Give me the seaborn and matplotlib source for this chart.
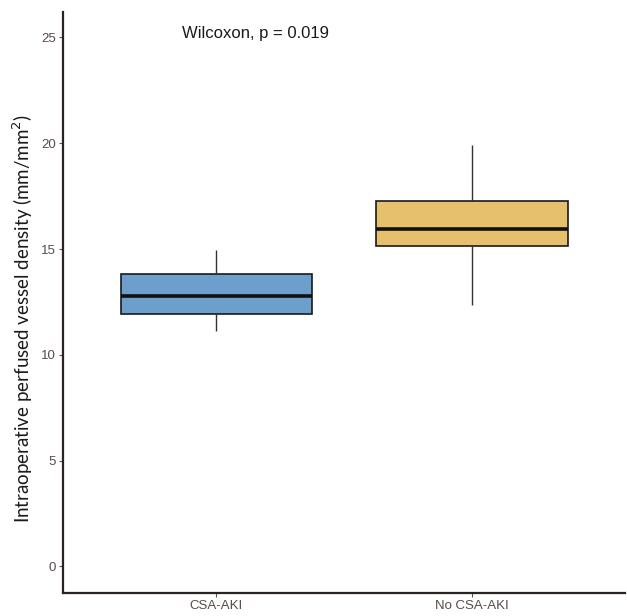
import matplotlib
matplotlib.use("Agg")
import matplotlib.pyplot as plt
import seaborn as sns
import pandas as pd

# Summary values (whisker low, Q1, median, Q3, whisker high)
groups = ["CSA-AKI", "No CSA-AKI"]
csa_aki = [11.13, 11.93, 12.78, 13.82, 14.95]
no_csa_aki = [12.36, 15.14, 15.93, 17.28, 19.90]
box_colors = ["#6C9FCB", "#E7C06D"]
y_ticks = [0, 5, 10, 15, 20, 25]
annotation = "Wilcoxon, p = 0.019"
y_label = "Intraoperative perfused vessel density (mm/mm$^2$)"

df = pd.DataFrame({
    "group": [groups[0]] * len(csa_aki) + [groups[1]] * len(no_csa_aki),
    "value": csa_aki + no_csa_aki,
})

sns.set_style("white")
plt.rcParams["font.family"] = ["Liberation Sans", "DejaVu Sans"]

fig = plt.figure(figsize=(6.27, 6.16), dpi=100)
ax = fig.add_axes([0.1005, 0.0375, 0.8965, 0.943])

sns.boxplot(
    data=df, x="group", y="value", hue="group", order=groups,
    palette=dict(zip(groups, box_colors)), legend=False, saturation=1,
    width=0.75, whis=1.5, showfliers=False, ax=ax,
    linecolor="#1a1a1a", linewidth=1.2,
    medianprops=dict(color="#111111", linewidth=2.6),
    whiskerprops=dict(color="#3a2f2f", linewidth=1.0),
    capprops=dict(linewidth=0),
    boxprops=dict(edgecolor="#1a1a1a", linewidth=1.2),
)

ax.set_xlim(-0.6, 1.6)
ax.set_ylim(-1.25, 26.2)
ax.set_yticks(y_ticks)
ax.set_yticklabels([str(t) for t in y_ticks])

for s in ["top", "right"]:
    ax.spines[s].set_visible(False)
for s in ["left", "bottom"]:
    ax.spines[s].set_color("#2b2222")
    ax.spines[s].set_linewidth(1.6)

ax.tick_params(axis="both", direction="out", length=3, width=0.8,
               color="#555555", labelcolor="#5a4a4a", labelsize=9.5,
               left=True, bottom=True, pad=2)

ax.set_xlabel("")
ax.set_ylabel(y_label, fontsize=13.5, color="#1a1a1a",
              family=["Lato", "DejaVu Sans"], labelpad=3)
ax.yaxis.set_label_coords(-0.05, 0.473)

ax.text(-0.133, 25.2, annotation, ha="left", va="center",
        fontsize=12, color="#1a1a1a")

fig.savefig("out.png", dpi=100)
